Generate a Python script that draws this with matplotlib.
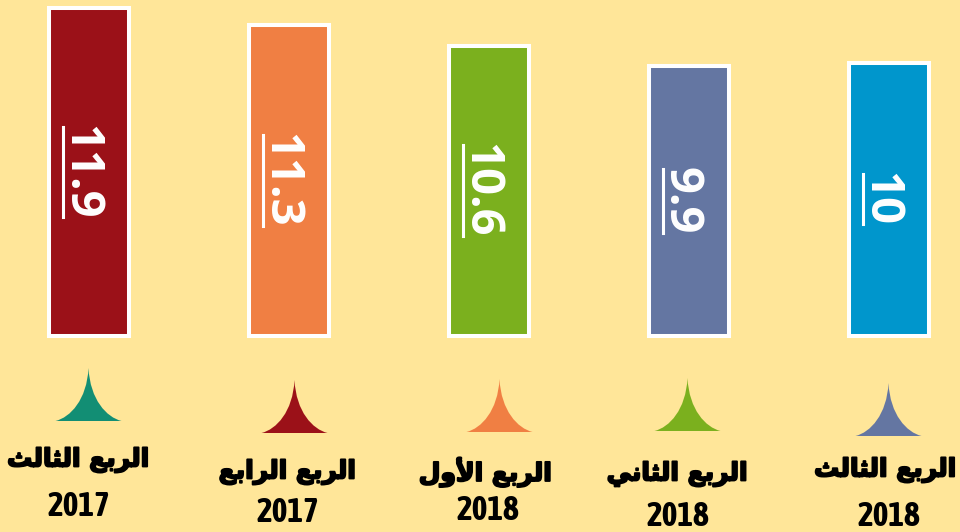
import numpy as np
import matplotlib.pyplot as plt
from matplotlib.path import Path
from matplotlib.patches import PathPatch
from matplotlib.lines import Line2D
from matplotlib import patheffects as pe

# datos
quarters = ['الربع الثالث', 'الربع الرابع', 'الربع الأول', 'الربع الثاني', 'الربع الثالث']
years = ['2017', '2017', '2018', '2018', '2018']
values = [11.9, 11.3, 10.6, 9.9, 10]
labels = ['11.9', '11.3', '10.6', '9.9', '10']
bar_colors = ['#9B1118', '#F07F43', '#7BB01E', '#6476A2', '#0096CC']
tent_colors = ['#128E74', '#9B1118', '#F07F43', '#7BB01E', '#6476A2']
base = 0.6

# desplazamientos (pixeles) de carpas y textos respecto a cada barra
tent_dx = [0, 6, 11, -1, 0]
tent_dy = [-10, 2, 1, 0, 5]
lab_dx = [-10, -1, -3, -11, -3]
lab_dy = [-12, 0, 0, 2, -2]
year_dx = [-10, -1, -1, -11, 0]
year_dy = [-5, 0, -2, 5, 5]

# formas de presentacion arabe (aislada, final, inicial, media)
FORMS = {
    'ا': (0xFE8D, 0xFE8E, None, None),
    'أ': (0xFE83, 0xFE84, None, None),
    'ل': (0xFEDD, 0xFEDE, 0xFEDF, 0xFEE0),
    'ر': (0xFEAD, 0xFEAE, None, None),
    'ب': (0xFE8F, 0xFE90, 0xFE91, 0xFE92),
    'ع': (0xFEC9, 0xFECA, 0xFECB, 0xFECC),
    'ث': (0xFE99, 0xFE9A, 0xFE9B, 0xFE9C),
    'ن': (0xFEE5, 0xFEE6, 0xFEE7, 0xFEE8),
    'ي': (0xFEF1, 0xFEF2, 0xFEF3, 0xFEF4),
    'و': (0xFEED, 0xFEEE, None, None),
    'لا': (0xFEFB, 0xFEFC, None, None),
    'لأ': (0xFEF7, 0xFEF8, None, None),
}


def shape(txt):
    chars = []
    i = 0
    while i < len(txt):
        if txt[i] == 'ل' and i + 1 < len(txt) and txt[i + 1] in 'اأ':
            chars.append(txt[i:i + 2])
            i += 2
        else:
            chars.append(txt[i])
            i += 1
    out = []
    for k, c in enumerate(chars):
        if c not in FORMS:
            out.append(c)
            continue
        prev = chars[k - 1] if k > 0 else None
        nxt = chars[k + 1] if k + 1 < len(chars) else None
        jp = prev in FORMS and FORMS[prev][2] is not None
        jn = nxt in FORMS and FORMS[c][2] is not None
        f = FORMS[c]
        if jp and jn:
            out.append(chr(f[3]))
        elif jp:
            out.append(chr(f[1]))
        elif jn:
            out.append(chr(f[2]))
        else:
            out.append(chr(f[0]))
    return ''.join(out)[::-1]


bg = '#FFE699'
fig = plt.figure(figsize=(9.6, 5.32), dpi=100, facecolor=bg)
ax = fig.add_axes([0, 0, 1, 1])
ax.set_facecolor(bg)
ax.axis('off')

# escala: 200 px por barra en x, 29 px por unidad en y
px_x = 1 / 200
px_y = 1 / 29
ax.set_xlim(-88.5 * px_x, (960 - 88.5) * px_x)
ax.set_ylim((353.1 - 532) * px_y, 353.1 * px_y)

x = np.arange(len(values))
vals = np.array(values)
ax.bar(x, vals - base, bottom=base, width=0.4, color=bar_colors,
       edgecolor='white', linewidth=2.9, zorder=2)

texts = []
for xi, v, lab in zip(x, vals, labels):
    t = ax.text(xi - 8 * px_x, (base + v) / 2, lab, rotation=-90, ha='center', va='center',
                color='white', fontsize=34, fontweight='bold', family=['Open Sans', 'DejaVu Sans'],
                zorder=3)
    texts.append(t)

# carpas
w = 66 * px_x
h = 53 * px_y
y_apex0 = (353.1 - 378) * px_y
for i, xi in enumerate(x):
    cx = xi + tent_dx[i] * px_x
    ta = y_apex0 - tent_dy[i] * px_y
    tb = ta - h
    l = cx - w / 2
    r = cx + w / 2
    hw = w / 2
    verts = [(l, tb), (l + 0.45 * hw, tb + 0.07 * h), (cx - 0.05 * hw, tb + 0.4 * h), (cx, ta),
             (cx + 0.05 * hw, tb + 0.4 * h), (r - 0.45 * hw, tb + 0.07 * h), (r, tb),
             (l, tb)]
    codes = [Path.MOVETO, Path.CURVE4, Path.CURVE4, Path.CURVE4,
             Path.CURVE4, Path.CURVE4, Path.CURVE4, Path.CLOSEPOLY]
    ax.add_patch(PathPatch(Path(verts, codes), facecolor=tent_colors[i], edgecolor='none'))

# etiquetas
y_lab = (353.1 - 472) * px_y
y_year = (353.1 - 512) * px_y
for i, xi in enumerate(x):
    ax.text(xi + lab_dx[i] * px_x, y_lab - lab_dy[i] * px_y, shape(quarters[i]),
            ha='center', va='center', fontsize=18, fontweight='bold', family='DejaVu Sans',
            color='black', path_effects=[pe.withStroke(linewidth=1.4, foreground='black')])
    ax.text(xi + year_dx[i] * px_x, y_year - year_dy[i] * px_y, years[i],
            ha='center', va='center', fontsize=24, fontweight='bold',
            family=['Asap Condensed', 'Liberation Sans'], color='black')

# subrayado de los valores
fig.canvas.draw()
r = fig.canvas.get_renderer()
for t in texts:
    bb = t.get_window_extent(r)
    xl = bb.x0 + 6
    fig.add_artist(Line2D([xl / 960, xl / 960], [(bb.y0 + 2) / 532, (bb.y1 - 2) / 532],
                          transform=fig.transFigure, color='white', linewidth=2.2, zorder=4))

plt.savefig('out.png', dpi=100, facecolor=bg)
plt.close()
